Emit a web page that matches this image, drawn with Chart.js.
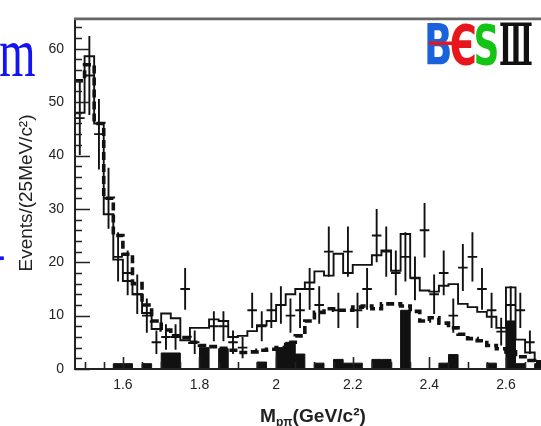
<!DOCTYPE html>
<html><head><meta charset="utf-8">
<script src="https://cdn.jsdelivr.net/npm/chart.js@4.4.1/dist/chart.umd.min.js"></script>
<style>html,body{margin:0;padding:0;background:#fff;overflow:hidden}canvas{display:block}</style>
</head><body>
<canvas id="c" width="541" height="426"></canvas>
<script>
// ---- data ----
const binCenters = [1.4875,1.5125,1.5375,1.5625,1.5875,1.6125,1.6375,1.6625,1.6875,1.7125,
  1.7375,1.7625,1.7875,1.8125,1.8375,1.8625,1.8875,1.9125,1.9375,1.9625,
  1.9875,2.0125,2.0375,2.0625,2.0875,2.1125,2.1375,2.1625,2.1875,2.2125,
  2.2375,2.2625,2.2875,2.3125,2.3375,2.3625,2.3875,2.4125,2.4375,2.4625,
  2.4875,2.5125,2.5375,2.5625,2.5875,2.6125,2.6375,2.6625,2.6875];
const dataCounts = [47,55,44,32,21,18,14,10,5,6,
  6,15,5,null,8,8,5,4,11,8,
  11,12,10,11,15,12,22,11,22,11,
  15,25,22,18,21,17,26,14,18,10,
  19,21,15,11,7,12,11,5,null];
const dataErrors = [6.9,7.4,6.6,5.7,4.6,4.2,3.7,3.2,2.2,2.4,
  2.4,3.9,2.2,null,2.8,2.8,2.2,2.0,3.3,2.8,
  3.3,3.5,3.2,3.3,3.9,3.5,4.7,3.3,4.7,3.3,
  3.9,5.0,4.7,4.2,4.6,4.1,5.1,3.7,4.2,3.2,
  4.4,4.6,3.9,3.3,2.6,3.5,3.3,2.2,null];
const totalFit = [48,58.6,46,29,20.5,16.5,14,10.5,7.5,10.4,
  9.5,5.4,7.7,7.7,9.3,9,6,6.2,7.1,8.2,
  9,12,14,15,16.2,18.3,17.5,21.6,18,19.5,
  19.5,21.3,22.2,18.4,25.3,17.1,14.7,14.5,15.6,15.9,
  12.2,11.6,10.7,9.8,7.7,15.3,5.5,3.1,1.5];
const background = [54,57,46,32,25,21.5,16,12,9,7.3,
  6.2,5.9,5,4.4,4.2,3.9,3.5,3.1,3.2,3.5,
  3.7,4,5,6.2,9,10.6,11.3,11,11,11.6,
  11.8,11.3,12.2,12.2,11.8,10.8,9,9.6,8.6,7.7,
  6.5,5.7,5.3,4.4,3.8,3.2,2.3,1.6,1];
const sideband = [0,0,0,0,1,1,0,1,0,3,
  3,0,0,4,0,3.8,0,0,0,1.3,
  0,4,5,2.8,0,1.1,0,1.8,1.1,1.1,
  0,1.8,1.8,0,11,0,0,0,1.1,2.7,
  0,0,0,1.1,0,9,1,0,1];
const xTickValues = [1.6,1.8,2.0,2.2,2.4,2.6];
const xTickLabels = ['1.6','1.8','2','2.2','2.4','2.6'];
const yTickValues = [0,10,20,30,40,50,60];
const yTickLabels = ['0','10','20','30','40','50','60'];
const yTitle = 'Events/(25MeV/c\u00B2)';
const xTitleMain = 'M', xTitleSub = 'p\u03C0', xTitleUnit = '(GeV/c\u00B2)';

// ---- layout constants ----
const BIN_WIDTH = 0.025;
const X_MIN = 1.475, X_MAX = 2.6915, Y_MAX = 65.5;

function histPoints(vals) {
  const pts = binCenters.map((c, i) => ({x: c - BIN_WIDTH / 2, y: vals[i] == null ? 0 : vals[i]}));
  const n = binCenters.length - 1;
  pts.push({x: binCenters[n] + BIN_WIDTH / 2, y: vals[n] == null ? 0 : vals[n]});
  return pts;
}

function drawFit(ctx, text, font, color, x0, y0, x1, y1) {
  ctx.save();
  ctx.font = font;
  ctx.textAlign = 'left'; ctx.textBaseline = 'alphabetic';
  const m = ctx.measureText(text);
  const w = m.actualBoundingBoxLeft + m.actualBoundingBoxRight;
  const h = m.actualBoundingBoxAscent + m.actualBoundingBoxDescent;
  ctx.translate(x0, y0);
  ctx.scale((x1 - x0) / w, (y1 - y0) / h);
  ctx.fillStyle = color;
  ctx.fillText(text, m.actualBoundingBoxLeft, m.actualBoundingBoxAscent);
  ctx.restore();
}

const framePlugin = {
  id: 'frame',
  afterDatasetsDraw(chart) {
    const {ctx, scales: {x, y}, chartArea: a} = chart;
    ctx.save();
    // data points with error bars
    ctx.beginPath(); ctx.rect(a.left, a.top, a.right - a.left, a.bottom - a.top); ctx.clip();
    ctx.strokeStyle = '#111'; ctx.lineWidth = 1.9; ctx.lineCap = 'butt';
    binCenters.forEach((c, i) => {
      const v = dataCounts[i]; if (v == null) return;
      const e = dataErrors[i];
      const px = x.getPixelForValue(c), py = y.getPixelForValue(v);
      ctx.beginPath();
      ctx.moveTo(px, y.getPixelForValue(v - e)); ctx.lineTo(px, y.getPixelForValue(v + e));
      ctx.moveTo(x.getPixelForValue(c - BIN_WIDTH / 2), py);
      ctx.lineTo(x.getPixelForValue(c + BIN_WIDTH / 2), py);
      ctx.stroke();
    });
    ctx.restore();
    ctx.save();
    // inward ticks
    ctx.strokeStyle = '#222'; ctx.lineWidth = 1.6;
    ctx.beginPath();
    for (let v = 0; v <= 64; v += 2) {
      const py = Math.round(y.getPixelForValue(v)) + 0.5;
      const len = v % 10 === 0 ? 15 : 7;
      ctx.moveTo(a.left, py); ctx.lineTo(a.left + len, py);
    }
    for (let k = 0; k <= 23; k++) {
      const v = 1.5 + k * 0.05;
      const px = Math.round(x.getPixelForValue(v)) + 0.5;
      const major = (k + 2) % 4 === 0;
      const len = major ? 12 : 7;
      ctx.moveTo(px, a.bottom); ctx.lineTo(px, a.bottom - len);
    }
    ctx.stroke();
    // axes lines
    ctx.lineWidth = 2; ctx.strokeStyle = '#222';
    ctx.beginPath();
    ctx.moveTo(a.left, a.top); ctx.lineTo(a.left, a.bottom + 1);
    ctx.moveTo(a.left - 1, a.bottom); ctx.lineTo(a.right, a.bottom);
    ctx.stroke();
    ctx.lineWidth = 2.6; ctx.strokeStyle = '#666';
    ctx.beginPath(); ctx.moveTo(a.left - 1, a.top - 0.5); ctx.lineTo(a.right, a.top - 0.5); ctx.stroke();
    ctx.restore();
  },
  afterDraw(chart) {
    const ctx = chart.ctx;
    // y axis title
    ctx.save();
    ctx.translate(32, 193);
    ctx.rotate(-Math.PI / 2);
    ctx.font = '19px "Liberation Sans", Arial, sans-serif';
    const w = ctx.measureText(yTitle).width;
    ctx.scale(157 / w, 1);
    ctx.fillStyle = '#222'; ctx.textAlign = 'center'; ctx.textBaseline = 'alphabetic';
    ctx.fillText(yTitle, 0, 0);
    ctx.restore();
    // x axis title
    ctx.save();
    ctx.fillStyle = '#222'; ctx.textBaseline = 'alphabetic'; ctx.textAlign = 'left';
    const fMain = 'bold 19px "Liberation Sans", Arial, sans-serif';
    const fSub = 'bold 12px "Liberation Sans", Arial, sans-serif';
    ctx.font = fMain; const w1 = ctx.measureText(xTitleMain).width; const w3 = ctx.measureText(xTitleUnit).width;
    ctx.font = fSub; const w2 = ctx.measureText(xTitleSub).width;
    const total = w1 + w2 + w3;
    const sc = 106 / total;
    ctx.translate(260, 422);
    ctx.scale(sc, 1);
    ctx.font = fMain; ctx.fillText(xTitleMain, 0, 0);
    ctx.font = fSub; ctx.fillText(xTitleSub, w1, 4);
    ctx.font = fMain; ctx.fillText(xTitleUnit, w1 + w2, 0);
    ctx.restore();
    // slide text fragments (blue)
    drawFit(ctx, 'm', '72px "Liberation Serif", serif', '#1414f0', 0, 43, 35, 76);
    drawFit(ctx, '-', '48px "Liberation Serif", serif', '#1414f0', -1, 256, 4, 260);
    // BESIII logo
    drawFit(ctx, 'B', 'bold 60px "DejaVu Sans", sans-serif', '#1a62dc', 427, 23, 450, 65);
    drawFit(ctx, '\u0404', 'bold 60px "DejaVu Sans", sans-serif', '#e8161c', 451, 23, 475, 65);
    drawFit(ctx, 'S', 'bold 60px "DejaVu Sans", sans-serif', '#14c414', 476, 23, 497, 65);
    drawFit(ctx, '\u2162', 'bold 60px "DejaVu Serif", serif', '#111', 500, 23, 532, 65);
    ctx.save(); ctx.fillStyle = '#e8161c'; ctx.fillRect(429, 41.5, 26, 3.5); ctx.restore();
  }
};

new Chart(document.getElementById('c'), {
  type: 'line',
  data: {
    datasets: [
      {label: 'total', data: histPoints(totalFit), stepped: true, borderColor: '#111', borderWidth: 1.9,
       pointRadius: 0, fill: false, order: 1},
      {label: 'sideband', data: histPoints(sideband), stepped: true, borderColor: '#111', borderWidth: 1,
       backgroundColor: '#111', pointRadius: 0, fill: 'origin', order: 2},
      {label: 'background', data: histPoints(background), stepped: true, borderColor: '#111', borderWidth: 3.6,
       borderDash: [8, 4], borderCapStyle: 'butt', pointRadius: 0, fill: false, order: 3}
    ]
  },
  options: {
    responsive: false, animation: false, events: [],
    layout: {padding: {top: 9, right: 0, left: 0, bottom: 0}},
    plugins: {legend: {display: false}, tooltip: {enabled: false}},
    scales: {
      x: {type: 'linear', min: X_MIN, max: X_MAX,
          grid: {display: false, drawTicks: false}, border: {display: false},
          afterBuildTicks: s => { s.ticks = xTickValues.map(v => ({value: v})); },
          afterFit: s => { s.height = 57; },
          ticks: {padding: 8, color: '#222', font: {size: 14, family: '"Liberation Sans", Arial, sans-serif'},
                  maxRotation: 0, autoSkip: false, callback: (v, i) => xTickLabels[i]}},
      y: {type: 'linear', min: 0, max: Y_MAX,
          grid: {display: false, drawTicks: false}, border: {display: false},
          afterBuildTicks: s => { s.ticks = yTickValues.map(v => ({value: v})); },
          afterFit: s => { s.width = 75; },
          ticks: {padding: 11, color: '#222', font: {size: 14, family: '"Liberation Sans", Arial, sans-serif'},
                  autoSkip: false, callback: (v, i) => yTickLabels[i]}}
    }
  },
  plugins: [framePlugin]
});
</script>
</body></html>
